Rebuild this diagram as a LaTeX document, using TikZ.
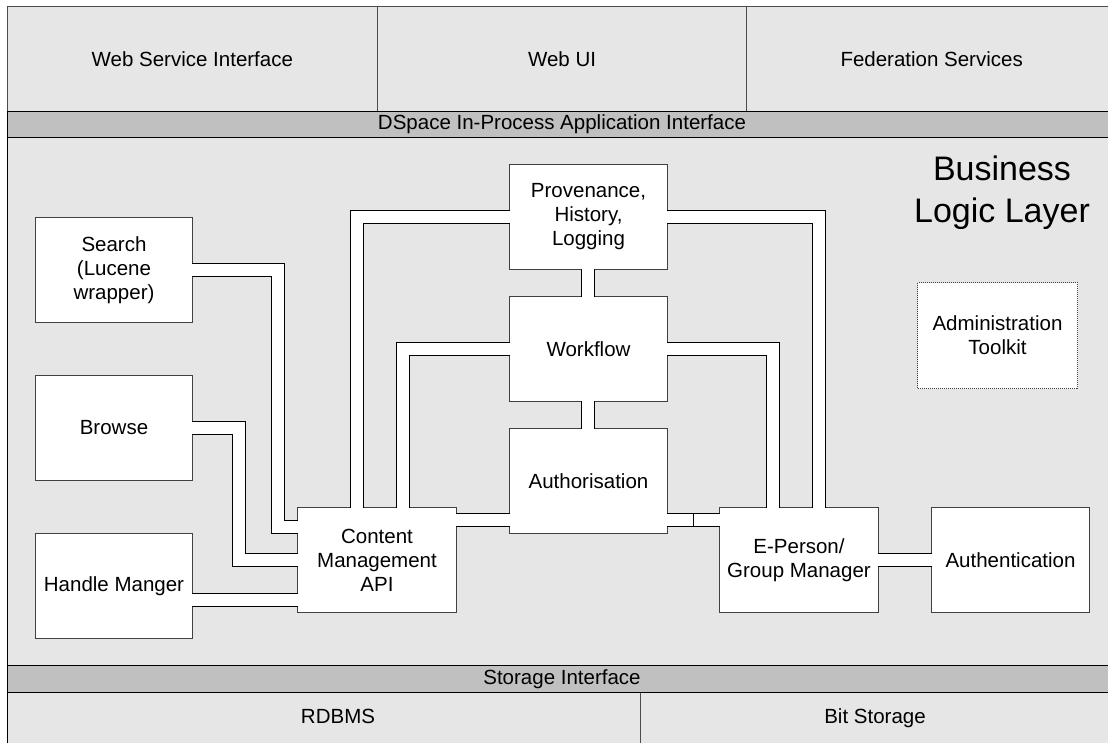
\documentclass[tikz,border=0pt]{standalone}
\usepackage{fontspec}
\setmainfont{Liberation Sans}
\definecolor{bglight}{HTML}{E6E6E6}
\definecolor{bardark}{HTML}{C0C0C0}
\begin{document}
\begin{tikzpicture}[x=1pt,y=-1pt,
  txt/.style={font=\fontsize{20.5}{24}\selectfont, align=center},
  layer/.style={txt, draw=black!70, fill=bglight, line width=1pt, inner sep=0pt, anchor=north west},
  bar/.style={txt, draw=black, fill=bardark, line width=1pt, inner sep=0pt, anchor=north west},
  box/.style={txt, draw=black!75, fill=white, line width=1pt, inner sep=0pt, anchor=north west,
              minimum width=158pt, minimum height=105pt},
  link/.style={draw=black, line width=1pt, double=white, double distance=12pt,
               shorten <=-0.8pt, shorten >=-0.8pt},
  tick/.style={draw=black, line width=1pt}]
\useasboundingbox (0,0) rectangle (1108,742);
\clip (0,0) rectangle (1108,742);
\fill[white] (0,0) rectangle (1108,742);

% layers
\node[layer, minimum width=1109pt, minimum height=528pt] (business) at (7,137) {};
\draw[black, line width=1pt] (business.north west) -- (business.south west);
\node[layer, minimum width=369.7pt, minimum height=105pt] (wsi) at (7,6) {Web Service Interface};
\node[layer, minimum width=369.7pt, minimum height=105pt] (webui) at (376.7,6) {Web UI};
\node[layer, minimum width=369.7pt, minimum height=105pt] (fed) at (746.3,6) {Federation Services};
\node[layer, minimum width=633pt, minimum height=70pt] (rdbms) at (7,692) {};
\node[layer, minimum width=476pt, minimum height=70pt] (bits) at (640,692) {};
\draw[black, line width=1pt] (rdbms.north west) -- (rdbms.south west);
\node[txt, anchor=base] (rdbmslabel) at (338,723) {RDBMS};
\node[txt, anchor=base] (bitslabel) at (875,723) {Bit Storage};
\node[bar, minimum width=1109pt, minimum height=26pt] (dspace) at (7,111) {DSpace In-Process Application Interface};
\node[bar, minimum width=1109pt, minimum height=27pt] (storage) at (7,665) {Storage Interface};

\node[txt, font=\fontsize{34}{42}\selectfont] (bll) at (1002,193) {Business\\Logic Layer};

% boxes
\node[box, minimum width=157pt] (search) at (35,217) {Search\\(Lucene\\wrapper)};
\node[box, minimum width=157pt] (browse) at (35,375) {Browse};
\node[box, minimum width=157pt] (handle) at (35,533) {Handle Manger};
\node[box, minimum width=159pt] (cm) at (297,507) {Content\\Management\\API};
\node[box] (prov) at (509,164) {Provenance,\\History,\\Logging};
\node[box] (work) at (509,296) {Workflow};
\node[box] (auth) at (509,428) {Authorisation};
\node[box, minimum width=159pt] (eperson) at (719,507) {E-Person/\\Group Manager};
\node[box] (authn) at (931,507) {Authentication};
\node[box, minimum width=160pt, minimum height=106pt, densely dotted] (admin) at (917,282) {Administration\\Toolkit};

% connectors
\draw[link] (search.east |- 0,269.5) -| (277.5,527) -- (cm.west |- 0,527);
\draw[link] (browse.east |- 0,428) -| (238.5,560) -- (cm.west |- 0,560);
\draw[link] (handle.east |- 0,599.5) -- (cm.west |- 0,599.5);
\draw[link] (cm.north -| 357,0) |- (prov.west |- 0,216.5);
\draw[link] (cm.north -| 403,0) |- (work.west |- 0,348.5);
\draw[link] (cm.east |- 0,519.5) -- (auth.west |- 0,519.5);
\draw[link] (auth.east |- 0,520) -- (eperson.west |- 0,520);
\coordinate (joint) at (693,520);
\draw[tick] ([yshift=-7pt]joint) -- ([yshift=7pt]joint);
\draw[link] (prov.east |- 0,217) -| (eperson.north -| 818.5,0);
\draw[link] (work.east |- 0,348.5) -| (eperson.north -| 772.5,0);
\draw[link] (prov.south -| 588,0) -- (work.north -| 588,0);
\draw[link] (work.south -| 588,0) -- (auth.north -| 588,0);
\draw[link] (eperson.east |- 0,559.5) -- (authn.west |- 0,559.5);
\end{tikzpicture}
\end{document}
